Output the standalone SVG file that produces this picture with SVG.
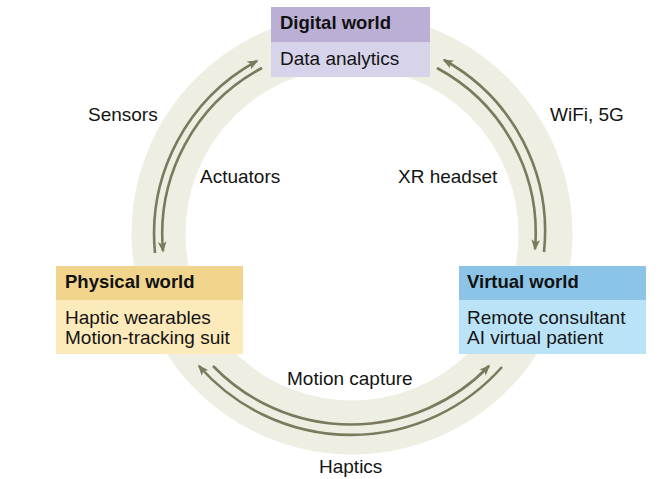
<svg xmlns="http://www.w3.org/2000/svg" width="661" height="479" viewBox="0 0 661 479">
<style>
  .lbl{font-family:"Liberation Sans",Arial,sans-serif;font-size:19px;fill:#141414}
  .ttl{font-family:"Liberation Sans",Arial,sans-serif;font-size:18.5px;font-weight:bold;fill:#111}
  .arc{fill:none;stroke:#7b7a5d;stroke-width:2.6;marker-end:url(#ah)}
</style>
<defs>
  <marker id="ah" viewBox="0 0 10 8" refX="8.5" refY="4" markerWidth="11" markerHeight="8.8" markerUnits="userSpaceOnUse" orient="auto">
    <path d="M0,0 L10,4 L0,8 L2.5,4 z" fill="#7b7a5d"/>
  </marker>
</defs>
<rect width="661" height="479" fill="#ffffff"/>
<circle id="ring" cx="352" cy="234" r="193.5" fill="none" stroke="#eeeee3" stroke-width="54"/>

<g id="connectors">
  <path class="arc" d="M155,253 A197,197 0 0,1 257,61"/>
  <path class="arc" d="M262,68 A188,188 0 0,0 163,251"/>
  <path class="arc" d="M544,252 A196,196 0 0,0 444,60"/>
  <path class="arc" d="M437,68 A187,187 0 0,1 535,249"/>
  <path class="arc" d="M502,367 A202,202 0 0,1 199,366"/>
  <path class="arc" d="M213,366 A192,192 0 0,0 489,366"/>
  <text class="lbl" x="88" y="121">Sensors</text>
  <text class="lbl" x="200" y="183">Actuators</text>
  <text class="lbl" x="398" y="183">XR headset</text>
  <text class="lbl" x="550" y="121">WiFi, 5G</text>
  <text class="lbl" x="287" y="385">Motion capture</text>
  <text class="lbl" x="319" y="473">Haptics</text>
</g>

<g id="digital">
  <rect x="271" y="7" width="159" height="35" fill="#bbafd6"/>
  <rect x="271" y="42" width="159" height="35" fill="#d6d3ea"/>
  <text class="ttl" x="280" y="29">Digital world</text>
  <text class="lbl" x="280" y="65">Data analytics</text>
</g>

<g id="physical">
  <rect x="56" y="266" width="187" height="34" fill="#f1d58c"/>
  <rect x="56" y="300" width="187" height="54" fill="#fdeabb"/>
  <text class="ttl" x="65" y="288">Physical world</text>
  <text class="lbl" x="65" y="324">Haptic wearables</text>
  <text class="lbl" x="65" y="344">Motion-tracking suit</text>
</g>

<g id="virtual">
  <rect x="459" y="266" width="187" height="34" fill="#8bc4e6"/>
  <rect x="459" y="300" width="187" height="54" fill="#bae3f7"/>
  <text class="ttl" x="467" y="288">Virtual world</text>
  <text class="lbl" x="467" y="324">Remote consultant</text>
  <text class="lbl" x="467" y="344">AI virtual patient</text>
</g>
</svg>
